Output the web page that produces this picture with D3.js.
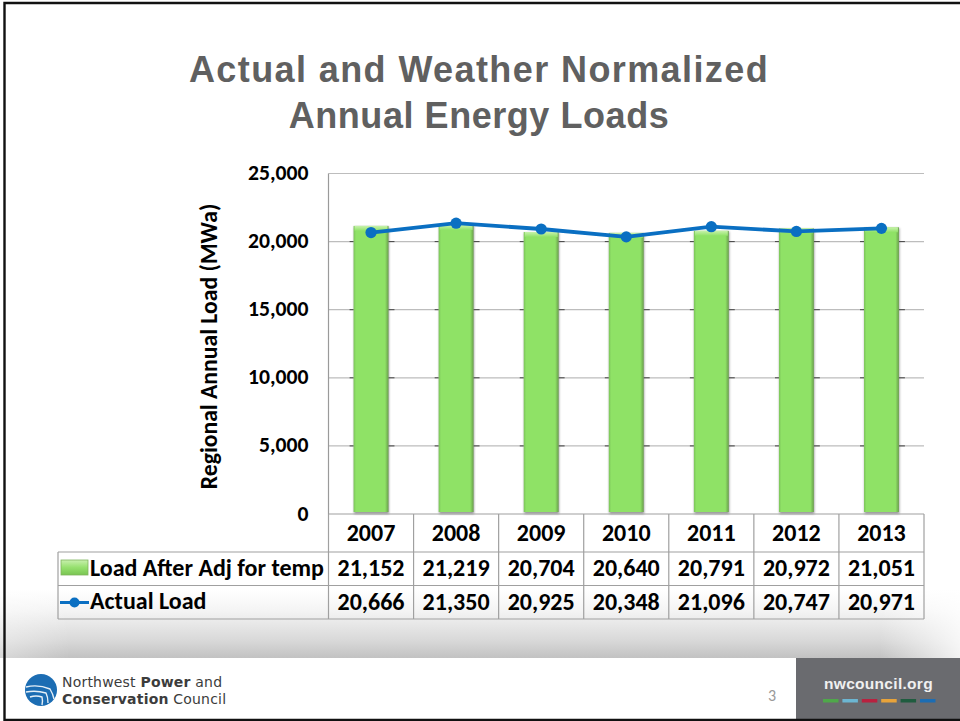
<!DOCTYPE html>
<html><head><meta charset="utf-8">
<script src="https://cdnjs.cloudflare.com/ajax/libs/d3/7.8.5/d3.min.js"></script>
<style>html,body{margin:0;padding:0;background:#fff}svg{display:block}text{font-family:Carlito,"Liberation Sans",sans-serif}</style>
</head><body><svg id="c" width="960" height="721"></svg>
<script>
const years=["2007","2008","2009","2010","2011","2012","2013"];
const adjLoad=[21152,21219,20704,20640,20791,20972,21051];
const actualLoad=[20666,21350,20925,20348,21096,20747,20971];
const yTicks=[0,5000,10000,15000,20000,25000];
const seriesNames=["Load After Adj for temp","Actual Load"];
const titleLines=["Actual and Weather Normalized","Annual Energy Loads"];
const footerColors=["#4fa84a","#6cb6d2","#b8213f","#e8a33a","#1f5c3f","#1c6db3"];

const svg=d3.select("#c");
const defs=svg.append("defs");
const lg=(id,stops,x2,y2)=>{const g=defs.append("linearGradient").attr("id",id).attr("x1",0).attr("y1",0).attr("x2",x2).attr("y2",y2);
 stops.forEach(s=>g.append("stop").attr("offset",s[0]).attr("stop-color",s[1]).attr("stop-opacity",s[2]===undefined?1:s[2]));};
lg("shade",[[0,"#fff"],[0.3,"#f4f4f4"],[0.75,"#d8d8d8"],[1,"#c2c2c2"]],0,1);
lg("fadeL",[[0,"#fff",0.35],[1,"#fff",0]],1,0);
lg("fadeR",[[0,"#fff",0],[1,"#fff",0.8]],1,0);
lg("bar",[[0,"#7cc45a"],[0.07,"#8fe266"],[0.9,"#8fe266"],[1,"#6a9f4c"]],1,0);
lg("cap",[[0,"#c8f2ac"],[1,"#8fe266"]],0,1);
lg("swatch",[[0,"#c8f0ae"],[0.5,"#96e06e"],[1,"#79c552"]],0,1);
const blurF=defs.append("filter").attr("id","sh").attr("x","-20%").attr("width","140%").attr("y","-5%").attr("height","110%");
blurF.append("feGaussianBlur").attr("stdDeviation",1);

// slide background and footer
svg.append("rect").attr("width",960).attr("height",721).attr("fill","#fff");
svg.append("rect").attr("x",0).attr("y",590).attr("width",960).attr("height",68).attr("fill","url(#shade)");
svg.append("rect").attr("x",0).attr("y",590).attr("width",70).attr("height",68).attr("fill","url(#fadeL)");
svg.append("rect").attr("x",880).attr("y",590).attr("width",80).attr("height",68).attr("fill","url(#fadeR)");
svg.append("rect").attr("x",796).attr("y",658).attr("width",164).attr("height",61).attr("fill","#6a6b6f");

// title
svg.append("g").selectAll("text").data(titleLines).join("text")
 .attr("x",479).attr("y",(d,i)=>82+i*46).attr("text-anchor","middle")
 .attr("font-size",36).attr("font-weight",700).attr("fill","#606060").attr("letter-spacing",(d,i)=>i==0?1.4:0.55)
 .style("font-family","'Liberation Sans',sans-serif").text(d=>d);

// scales
const pLeft=328.5,pRight=924,pTop=173.5,pBottom=514;
const x=d3.scaleBand().domain(years).range([pLeft,pRight]).paddingInner(0.59).paddingOuter(0.295);
const y=d3.scaleLinear().domain([0,25000]).range([pBottom,pTop]);
const cx=d=>x(d)+x.bandwidth()/2;

// grid + axis
const gridG=svg.append("g");
gridG.selectAll("line").data(yTicks.filter(d=>d>0)).join("line")
 .attr("x1",pLeft).attr("x2",pRight).attr("y1",d=>y(d)).attr("y2",d=>y(d)).attr("stroke","#bdbdbd").attr("stroke-width",1.2);
svg.append("line").attr("x1",pLeft).attr("x2",pLeft).attr("y1",pTop).attr("y2",pBottom).attr("stroke","#9a9a9a").attr("stroke-width",1.2);

const axis=svg.append("g").attr("transform",`translate(${pLeft},0)`)
 .call(d3.axisLeft(y).tickValues(yTicks).tickFormat(d3.format(",")).tickSize(0).tickPadding(20));
axis.select(".domain").remove();
axis.selectAll("text").attr("font-size",21.7).attr("font-weight",700).attr("fill","#000").attr("dy","0.28em");

svg.append("text").attr("transform",`translate(217,346.5) rotate(-90)`).attr("text-anchor","middle")
 .attr("font-size",23.7).attr("font-weight",700).attr("fill","#000").text("Regional Annual Load (MWa)");

// small dark gridline stubs beside bars
const stubs=svg.append("g");
years.forEach(yr=>{yTicks.filter(d=>d>0&&d<25000).forEach(t=>{
 stubs.append("line").attr("x1",x(yr)-4).attr("x2",x(yr)).attr("y1",y(t)).attr("y2",y(t)).attr("stroke","#444").attr("stroke-width",1);
 stubs.append("line").attr("x1",x(yr)+x.bandwidth()).attr("x2",x(yr)+x.bandwidth()+6).attr("y1",y(t)).attr("y2",y(t)).attr("stroke","#444").attr("stroke-width",1);
});});

// bars
const bars=svg.append("g");
bars.selectAll("rect.s").data(adjLoad).join("rect").attr("class","s")
 .attr("x",(d,i)=>x(years[i])+0.5).attr("y",d=>y(d)+1).attr("width",x.bandwidth()).attr("height",d=>pBottom-y(d)-1)
 .attr("fill","#555").attr("opacity",0.6).attr("filter","url(#sh)");
bars.selectAll("rect.b").data(adjLoad).join("rect").attr("class","b")
 .attr("x",(d,i)=>x(years[i])).attr("y",d=>y(d)).attr("width",x.bandwidth()).attr("height",d=>pBottom-y(d)-2)
 .attr("fill","url(#bar)");
bars.selectAll("rect.c").data(adjLoad).join("rect").attr("class","c")
 .attr("x",(d,i)=>x(years[i])+1).attr("y",d=>y(d)).attr("width",x.bandwidth()-2).attr("height",5)
 .attr("fill","url(#cap)");

// table
const rowY=[514,552,585.5,619];
const tableLeft=58;
const tbl=svg.append("g").attr("stroke","#a0a0a0").attr("stroke-width",1.2);
rowY.forEach((ry,i)=>tbl.append("line").attr("x1",i==0?pLeft:tableLeft).attr("x2",pRight).attr("y1",ry).attr("y2",ry));
tbl.append("line").attr("x1",tableLeft).attr("x2",tableLeft).attr("y1",rowY[1]).attr("y2",rowY[3]);
d3.range(years.length+1).forEach(i=>{
 const xx=pLeft+i*x.step();
 tbl.append("line").attr("x1",xx).attr("x2",xx).attr("y1",rowY[0]).attr("y2",rowY[3]);
});
const cell=(tx,ty,t,anchor)=>svg.append("text").attr("x",tx).attr("y",ty).attr("text-anchor",anchor||"middle")
 .attr("font-size",24).attr("font-weight",700).attr("fill","#000").text(t);
const fmt=d3.format(",");
years.forEach((yr,i)=>{
 cell(cx(yr),541,yr);
 cell(cx(yr),576,fmt(adjLoad[i]));
 cell(cx(yr),610,fmt(actualLoad[i]));
});
cell(90,576,seriesNames[0],"start");
cell(90,609,seriesNames[1],"start");
svg.append("rect").attr("x",61).attr("y",560).attr("width",27).attr("height",15).attr("fill","url(#swatch)").attr("stroke","#7fb45e").attr("stroke-width",0.8);
svg.append("line").attr("x1",60).attr("x2",89).attr("y1",602.5).attr("y2",602.5).attr("stroke","#0a6fc2").attr("stroke-width",3);
svg.append("circle").attr("cx",74.5).attr("cy",602.5).attr("r",5).attr("fill","#0a6fc2");

// line
const lineGen=d3.line().x((d,i)=>cx(years[i])).y(d=>y(d));
svg.append("path").datum(actualLoad).attr("d",lineGen).attr("fill","none").attr("stroke","#0a6fc2").attr("stroke-width",3.8);
svg.append("g").selectAll("circle").data(actualLoad).join("circle")
 .attr("cx",(d,i)=>cx(years[i])).attr("cy",d=>y(d)).attr("r",5.6).attr("fill","#0a6fc2");

// footer logo
const logo=svg.append("g");
logo.append("circle").attr("cx",41).attr("cy",690).attr("r",16).attr("fill","#1c6db3");
logo.append("path").attr("d","M26 687 Q38 684 50 689 Q53 694 54 699 M26 692 Q36 690 46 693 Q48 697 48 703 M30 697 Q36 695 42 697 Q43 701 42 705").attr("fill","none").attr("stroke","#e6eff7").attr("stroke-width",1.4);
const ft=(tx,ty,parts)=>{const t=svg.append("text").attr("x",tx).attr("y",ty).attr("font-size",14).attr("fill","#3c3c3c").attr("letter-spacing",0.2).style("font-family","'DejaVu Sans',sans-serif");
 parts.forEach(p=>t.append("tspan").attr("font-weight",p[1]?700:400).text(p[0]));};
ft(62,687,[["Northwest ",0],["Power",1],[" and",0]]);
ft(62,704,[["Conservation",1],[" Council",0]]);
svg.append("text").attr("x",772).attr("y",701).attr("text-anchor","middle").attr("font-size",16).attr("fill","#9a9a9a").text("3");
svg.append("text").attr("x",878.5).attr("y",689).attr("text-anchor","middle").attr("font-size",15.5).attr("font-weight",700).attr("fill","#f0f0f0").attr("letter-spacing",0.3).style("font-family","'Liberation Sans',sans-serif").text("nwcouncil.org");
svg.append("g").selectAll("rect").data(footerColors).join("rect")
 .attr("x",(d,i)=>823+i*19.4).attr("y",699).attr("width",15.5).attr("height",3.5).attr("fill",d=>d);

// slide border: top, left and bottom only
svg.append("path").attr("d","M960 3 H4.5 V720 H960").attr("fill","none").attr("stroke","#111").attr("stroke-width",2.4);
</script></body></html>
